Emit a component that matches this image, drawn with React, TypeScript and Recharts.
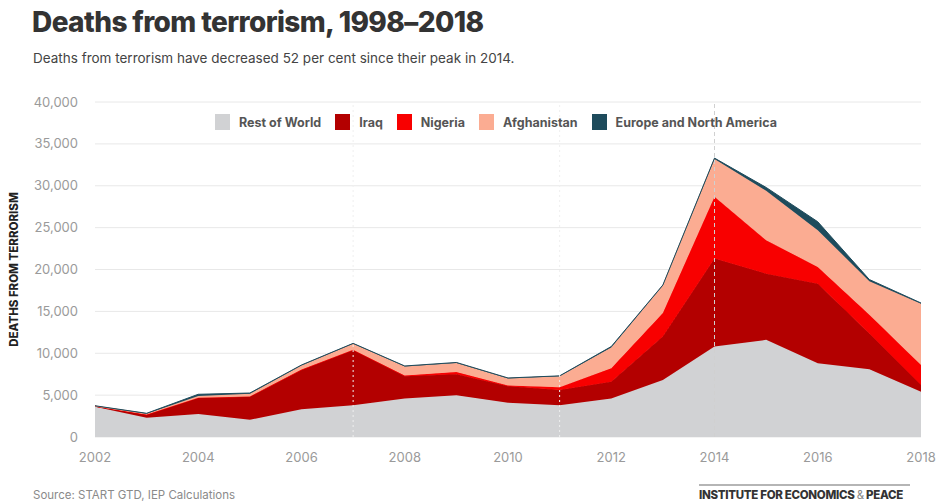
import React from 'react';
import {
    AreaChart,
    Area,
    XAxis,
    YAxis,
    CartesianGrid,
    ReferenceLine
} from 'recharts';

const years = [2002, 2003, 2004, 2005, 2006, 2007, 2008, 2009, 2010, 2011, 2012, 2013, 2014, 2015, 2016, 2017, 2018];
const restOfWorld = [3600, 2300, 2750, 2050, 3300, 3800, 4600, 5000, 4100, 3800, 4600, 6800, 10800, 11600, 8800, 8100, 5400];
const iraq = [80, 350, 1900, 2750, 4700, 6550, 2650, 2500, 1950, 1800, 2000, 5200, 10500, 7900, 9500, 4250, 800];
const nigeria = [0, 30, 50, 50, 50, 80, 80, 250, 100, 350, 1600, 2800, 7400, 4000, 2000, 2250, 2400];
const afghanistan = [30, 100, 200, 300, 500, 700, 1100, 1100, 850, 1300, 2500, 3300, 4500, 5900, 4400, 4000, 7300];
const europeNA = [20, 50, 200, 100, 50, 50, 50, 50, 50, 50, 100, 50, 100, 400, 1000, 200, 100];

const xTicks = [2002, 2004, 2006, 2008, 2010, 2012, 2014, 2016, 2018];
const yTicks = [0, 5000, 10000, 15000, 20000, 25000, 30000, 35000, 40000];

const series = [
    { key: 'row', name: 'Rest of World', color: '#d1d2d4' },
    { key: 'iraq', name: 'Iraq', color: '#b30000' },
    { key: 'nigeria', name: 'Nigeria', color: '#f80000' },
    { key: 'afghanistan', name: 'Afghanistan', color: '#fbac92' },
    { key: 'europe', name: 'Europe and North America', color: '#1e4b5c' }
];

const data = years.map((year, i) => ({
    year,
    row: restOfWorld[i],
    iraq: iraq[i],
    nigeria: nigeria[i],
    afghanistan: afghanistan[i],
    europe: europeNA[i]
}));

const FONT = 'Inter, "Open Sans", sans-serif';

const ChartLegend = () => (
    <div style={{ position: 'absolute', left: 215, top: 114, display: 'flex', alignItems: 'center', gap: 14 }}>
        {series.map((s) => (
            <div key={s.key} style={{ display: 'flex', alignItems: 'center' }}>
                <span style={{ width: 15, height: 16, background: s.color, display: 'inline-block', marginRight: 9 }} />
                <span style={{ fontWeight: 700, fontSize: 12.5, color: '#555' }}>{s.name}</span>
            </div>
        ))}
    </div>
);

export default function App() {
    return (
        <div style={{ position: 'absolute', left: 0, top: 0, width: 936, height: 504, background: '#fff', fontFamily: FONT, overflow: 'hidden' }}>
            <div style={{ position: 'absolute', left: 32, top: 5, fontSize: 28, fontWeight: 800, color: '#333', letterSpacing: -0.6 }}>
                Deaths from terrorism, 1998–2018
            </div>
            <div style={{ position: 'absolute', left: 33, top: 50, fontSize: 13.5, color: '#444' }}>
                Deaths from terrorism have decreased 52 per cent since their peak in 2014.
            </div>
            <div style={{ position: 'absolute', left: 0, top: 0 }}>
                <AreaChart
                    width={936}
                    height={504}
                    data={data}
                    margin={{ top: 102, right: 15, left: 0, bottom: 42 }}
                >
                    <CartesianGrid vertical={false} stroke="#e8e8e8" />
                    <XAxis
                        dataKey="year"
                        type="number"
                        domain={[2002, 2018]}
                        ticks={xTicks}
                        axisLine={false}
                        tickLine={false}
                        tickMargin={10}
                        height={25}
                        tick={{ fill: '#9a9a9a', fontSize: 13, fontFamily: FONT }}
                    />
                    <YAxis
                        domain={[0, 40000]}
                        ticks={yTicks}
                        width={95}
                        axisLine={false}
                        tickLine={false}
                        tickMargin={11}
                        tickFormatter={(v: number) => v.toLocaleString('en-US')}
                        tick={{ fill: '#9a9a9a', fontSize: 13, fontFamily: FONT }}
                        label={{
                            value: 'DEATHS FROM TERRORISM',
                            angle: -90,
                            position: 'insideLeft',
                            offset: 14,
                            style: { textAnchor: 'middle', fill: '#222', fontSize: 11.5, fontWeight: 800, fontFamily: FONT }
                        }}
                    />
                    <ReferenceLine x={2007} stroke="#efefef" strokeDasharray="2 3" />
                    <ReferenceLine x={2011} stroke="#efefef" strokeDasharray="2 3" />
                    {series.map((s) => (
                        <Area
                            key={s.key}
                            type="linear"
                            dataKey={s.key}
                            name={s.name}
                            stackId="1"
                            stroke={s.color}
                            strokeWidth={1}
                            fill={s.color}
                            fillOpacity={1}
                            isAnimationActive={false}
                        />
                    ))}
                    <ReferenceLine x={2014} stroke="#d0d0d0" strokeDasharray="4 3" />
                </AreaChart>
            </div>
            <ChartLegend />
            <div style={{ position: 'absolute', left: 33, top: 488, fontSize: 11.5, color: '#8a8a8a' }}>
                Source: START GTD, IEP Calculations
            </div>
            <div style={{ position: 'absolute', left: 699, top: 484, width: 211, borderTop: '2px solid #b5b5b5', paddingTop: 2, fontSize: 11.5, fontWeight: 800, color: '#333', letterSpacing: -0.3, whiteSpace: 'nowrap' }}>
                INSTITUTE FOR ECONOMICS <span style={{ fontWeight: 400, color: '#888' }}>&amp;</span> PEACE
            </div>
        </div>
    );
}
